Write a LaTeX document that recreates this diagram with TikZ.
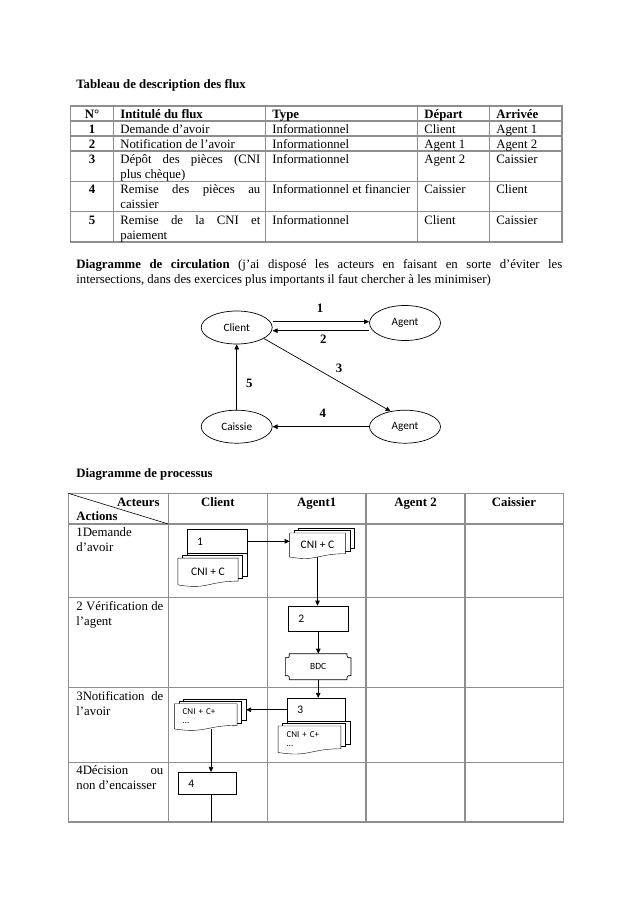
\documentclass[tikz,border=0pt]{standalone}
\usepackage{fontspec}
\setmainfont{Liberation Serif}
\newfontfamily\calibri{Carlito}
\usetikzlibrary{arrows.meta, calc, shapes.geometric, backgrounds}
\definecolor{rule}{HTML}{8E8E8E}

% front sheet with wavy foot and two sheets behind it
\newcommand{\docstack}[1]{%
  \begin{scope}[on background layer]
    \foreach \k in {2,1}
      \draw[fill=white] let \p1=(#1.north west), \p2=(#1.south east) in
        (\x1+\k*4.5pt,\y1+\k*2.5pt) rectangle (\x2+\k*4.5pt,{\y1-0.86*(\y1-\y2)+\k*2.5pt});
    \draw[fill=white] let \p1=(#1.north west), \p2=(#1.south east) in
      (\x1,\y1) -- (\x2,\y1) -- (\x2,{\y1-0.86*(\y1-\y2)})
      .. controls ({0.5*(\x1+\x2)},{\y1-0.86*(\y1-\y2)}) and ({0.5*(\x1+\x2)},{\y1-1.19*(\y1-\y2)}) .. (\x1,\y2) -- cycle;
  \end{scope}
  \coordinate (#1-b) at ($(#1.east)+(9,0)$);
}

\begin{document}
\begin{tikzpicture}[x=1pt, y=-1pt, line width=0.7pt,
    font=\fontsize{12.8}{15}\selectfont,
    txt/.style={anchor=base west, inner sep=0pt},
    ctr/.style={anchor=base, inner sep=0pt},
    cell/.style={anchor=base west, inner sep=0pt, text width=#1, align=justify},
    hd/.style={font=\fontsize{12.8}{15}\selectfont\bfseries},
    grid/.style={draw=rule, line width=1.2pt, line cap=rect},
    actor/.style={draw, ellipse, minimum width=71pt, minimum height=33pt, inner sep=1pt,
      font=\calibri\fontsize{11.2}{13}\selectfont},
    lbl/.style={inner sep=0pt, font=\fontsize{12.8}{15}\selectfont\bfseries},
    stepbox/.style={draw, fill=white, inner xsep=10pt, inner ysep=0pt, align=left,
      font=\calibri\fontsize{11.5}{13}\selectfont},
    docnode/.style={inner sep=0pt, font=\calibri\fontsize{11.5}{13}\selectfont},
    arr/.style={-{Triangle[length=5pt,width=4.5pt]}}]

  \useasboundingbox (0,0) rectangle (638,903);
  \begin{scope}[on background layer]
    \fill[white] (0,0) rectangle (638,903);
  \end{scope}

  % ---- flow table
  \node[txt, hd] (title1) at (76,88.5) {Tableau de description des flux};
  \foreach \y in {106,121,136,151,181.3,211.7,242}
    \draw[grid] (70.7,\y) -- (562,\y);
  \foreach \x in {70.7,113.3,265.3,417.7,489.3,562}
    \draw[grid] (\x,106) -- (\x,242);
  \node[ctr, hd] (h-n) at (92,118.5) {N°};
  \node[txt, hd] (h-i) at (120,118.5) {Intitulé du flux};
  \node[txt, hd] (h-t) at (272,118.5) {Type};
  \node[txt, hd] (h-d) at (424,118.5) {Départ};
  \node[txt, hd] (h-a) at (496,118.5) {Arrivée};
  \foreach \n/\y/\i/\t/\d/\a in {
      1/133.5/Demande d’avoir/Informationnel/Client/Agent 1,
      2/148.5/Notification de l’avoir/Informationnel/Agent 1/Agent 2,
      3/163.5/Dépôt des pièces (CNI\linebreak plus chèque)/Informationnel/Agent 2/Caissier,
      4/193.8/Remise des pièces au\linebreak caissier/Informationnel et financier/Caissier/Client,
      5/224.2/Remise de la CNI et\linebreak paiement/Informationnel/Client/Caissier}{
    \node[ctr, hd] (r\n-n) at (92,\y) {\n};
    \node[cell=140pt] (r\n-i) at (120,\y) {\i};
    \node[txt] (r\n-t) at (272,\y) {\t};
    \node[txt] (r\n-d) at (424,\y) {\d};
    \node[txt] (r\n-a) at (496,\y) {\a};
  }

  % ---- circulation
  \node[cell=486pt] (title2) at (76,268) {\textbf{Diagramme de circulation} (j’ai disposé les acteurs en faisant en sorte d’éviter les\linebreak intersections, dans des exercices plus importants il faut chercher à les minimiser)};
  \node[actor] (client) at (236.7,327.5) {Client};
  \node[actor, minimum height=35pt] (agentA) at (405,323) {Agent};
  \node[actor] (caissie) at (236.7,426.7) {Caissie};
  \node[actor] (agentB) at (405,426.7) {Agent};
  \draw[arr] ([yshift=5.8pt]client.east) -- ([yshift=5.8pt]client.east -| agentA.west);
  \draw[arr] ([yshift=-7.7pt]agentA.west) -- ([yshift=-7.7pt]agentA.west -| client.east);
  \draw[arr] (client.-22) -- (agentB.133);
  \draw[arr] (agentB) -- (caissie);
  \draw[arr] (caissie) -- (client);
  \node[lbl] (l1) at (320,308.3) {1};
  \node[lbl] (l2) at (323.3,339.3) {2};
  \node[lbl] (l3) at (339,368.3) {3};
  \node[lbl] (l4) at (322.7,413.3) {4};
  \node[lbl] (l5) at (249.3,383.3) {5};

  % ---- process table
  \node[txt, hd] (title3) at (76,477) {Diagramme de processus};
  \foreach \y in {493.3,524,597.3,687.3,762.5,822}
    \draw[grid] (68.3,\y) -- (563.3,\y);
  \foreach \x in {68.3,168.3,267.3,366,465,563.3}
    \draw[grid] (\x,493.3) -- (\x,822);
  \draw[line width=0.6pt] (68.3,493.3) -- (168.3,524);
  \node[anchor=base east, inner sep=0pt, hd] (acteurs) at (160,506) {Acteurs};
  \node[txt, hd] (actions) at (76,520.5) {Actions};
  \node[ctr, hd] (c-client) at (217.8,506) {Client};
  \node[ctr, hd] (c-agent1) at (316.7,506) {Agent1};
  \node[ctr, hd] (c-agent2) at (415.5,506) {Agent 2};
  \node[ctr, hd] (c-caissier) at (514,506) {Caissier};
  \node[cell=87pt] (a1) at (76,536.5) {1Demande\newline d’avoir};
  \node[cell=87pt] (a2) at (76,610.5) {2 Vérification de\linebreak l’agent};
  \node[cell=87pt] (a3) at (76,700) {3Notification de\linebreak l’avoir};
  \node[cell=87pt] (a4) at (76,774.5) {4Décision ou\linebreak non d’encaisser};

  % step 1
  \node[stepbox, text width=40pt, minimum height=24pt] (box1) at (217.2,541.3) {1};
  \node[docnode, minimum width=59.5pt, minimum height=26pt] (cdocA) at (208,571.5) {CNI + C};
  \docstack{cdocA}
  \node[docnode, minimum width=55pt, minimum height=23.4pt] (adocA) at (317.5,545) {CNI + C};
  \docstack{adocA}
  \draw[arr] (box1.east) -- (box1.east -| adocA.west);

  % step 2
  \node[stepbox, text width=40pt, minimum height=25.7pt] (box2) at (318.3,618.9) {2};
  \node[inner sep=0pt, minimum width=65pt, minimum height=25.3pt,
    font=\calibri\fontsize{9.5}{10}\selectfont] (bdc) at (318.2,666.7) {BDC};
  \draw let \p1=(bdc.north west), \p2=(bdc.south east) in
    (\x1+4pt,\y1) -- (\x2-4pt,\y1) .. controls (\x2-4pt,\y1-4pt) .. (\x2,\y1-4pt)
    -- (\x2,\y2+4pt) .. controls (\x2-4pt,\y2+4pt) .. (\x2-4pt,\y2)
    -- (\x1+4pt,\y2) .. controls (\x1+4pt,\y2+4pt) .. (\x1,\y2+4pt)
    -- (\x1,\y1-4pt) .. controls (\x1+4pt,\y1-4pt) .. (\x1+4pt,\y1) -- cycle;
  \draw[arr] (adocA.south) -- (adocA.south |- box2.north);
  \draw[arr] (box2.south) -- (box2.south |- bdc.north);

  % step 3
  \node[stepbox, text width=38.4pt, minimum height=23pt] (box3) at (316.5,709.8) {3};
  \node[docnode, font=\calibri\fontsize{9}{9.5}\selectfont, text width=46pt, inner xsep=8pt,
    minimum height=25.8pt, align=left] (adocB) at (309.5,739.2) {CNI + C+\\...};
  \docstack{adocB}
  \node[docnode, font=\calibri\fontsize{9}{9.5}\selectfont, text width=46pt, inner xsep=8pt,
    minimum height=24.5pt, align=left] (cdocB) at (205.7,716.3) {CNI + C+\\...};
  \docstack{cdocB}
  \draw[arr] (bdc.south) -- (bdc.south |- box3.north);
  \draw[arr] (box3.west) -- (box3.west -| cdocB-b);

  % step 4
  \node[stepbox, text width=38.4pt, minimum height=22pt] (box4) at (207.5,783.3) {4};
  \coordinate (v4) at (211,0);
  \coordinate (tbot) at (0,822);
  \draw[arr] (v4 |- cdocB.south) -- (v4 |- box4.north);
  \draw (v4 |- box4.south) -- (v4 |- tbot);
\end{tikzpicture}
\end{document}
